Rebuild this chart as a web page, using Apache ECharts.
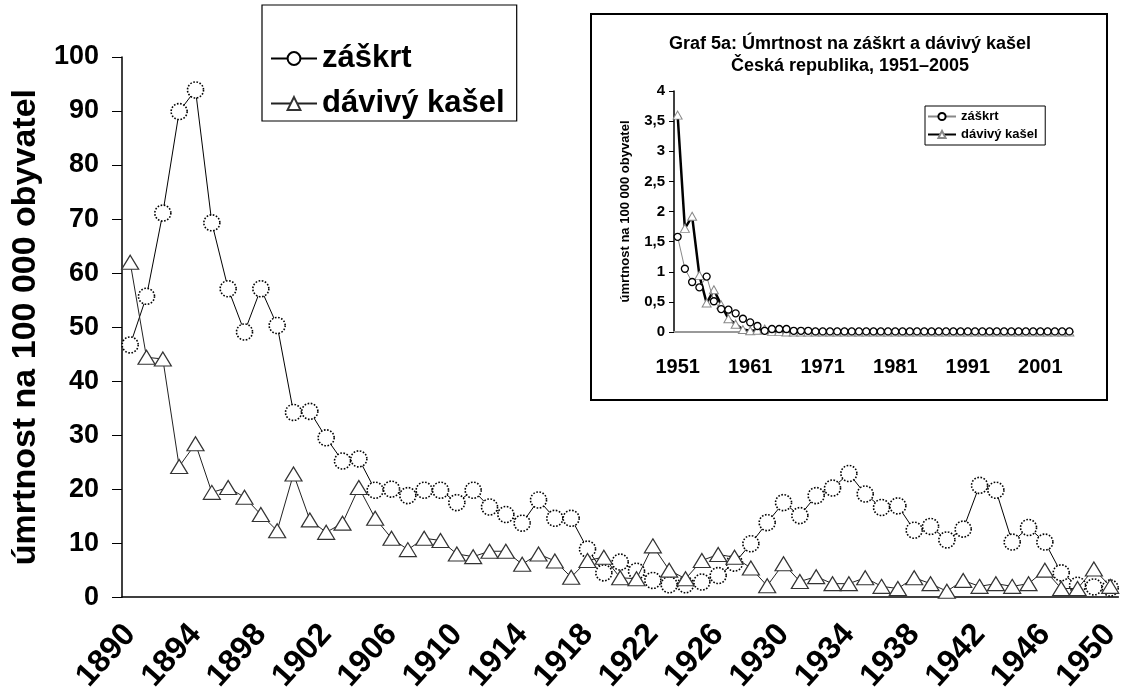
<!DOCTYPE html>
<html>
<head>
<meta charset="utf-8">
<script src="https://cdn.jsdelivr.net/npm/echarts@6/dist/echarts.min.js"></script>
<style>
  html, body { margin: 0; padding: 0; background: #fff; }
  #chart { width: 1124px; height: 695px; }
</style>
</head>
<body>
<div id="chart"></div>
<script>
// main chart: 1890-1950
const years = [
  '1890', '1891', '1892', '1893', '1894', '1895', '1896', '1897', '1898', '1899',
  '1900', '1901', '1902', '1903', '1904', '1905', '1906', '1907', '1908', '1909',
  '1910', '1911', '1912', '1913', '1914', '1915', '1916', '1917', '1918', '1919',
  '1920', '1921', '1922', '1923', '1924', '1925', '1926', '1927', '1928', '1929',
  '1930', '1931', '1932', '1933', '1934', '1935', '1936', '1937', '1938', '1939',
  '1940', '1941', '1942', '1943', '1944', '1945', '1946', '1947', '1948', '1949',
  '1950'
]
const zaskrt = [
  46.7, 55.7, 71.1, 89.9, 93.9, 69.3, 57.1, 49.1, 57.1, 50.3,
  34.2, 34.4, 29.5, 25.2, 25.6, 19.8, 20.0, 18.8, 19.8, 19.8,
  17.5, 19.8, 16.7, 15.3, 13.7, 18.0, 14.6, 14.6, 8.9, 4.5,
  6.5, 4.8, 3.1, 2.3, 2.3, 2.8, 4.0, 6.3, 9.9, 13.8,
  17.5, 15.1, 18.8, 20.2, 22.9, 19.1, 16.6, 16.9, 12.4, 13.1,
  10.6, 12.6, 20.7, 19.8, 10.2, 12.9, 10.2, 4.5, 2.2, 1.9,
  1.7
]
const kasel = [
  62.0, 44.4, 44.1, 24.2, 28.4, 19.4, 20.3, 18.5, 15.3, 12.3,
  22.8, 14.3, 12.0, 13.7, 20.3, 14.6, 10.9, 8.8, 10.9, 10.5,
  8.0, 7.5, 8.5, 8.5, 6.1, 8.0, 6.7, 3.7, 6.8, 7.4,
  3.6, 3.4, 9.5, 5.0, 3.4, 6.8, 7.9, 7.4, 5.4, 2.1,
  6.2, 2.9, 3.8, 2.5, 2.5, 3.6, 2.0, 1.6, 3.6, 2.5,
  1.1, 3.1, 2.0, 2.5, 2.0, 2.5, 5.0, 1.6, 1.6, 5.2,
  2.0
]

// inset chart: 1951-2005
const insetYears = [
  '1951', '1952', '1953', '1954', '1955', '1956', '1957', '1958', '1959', '1960',
  '1961', '1962', '1963', '1964', '1965', '1966', '1967', '1968', '1969', '1970',
  '1971', '1972', '1973', '1974', '1975', '1976', '1977', '1978', '1979', '1980',
  '1981', '1982', '1983', '1984', '1985', '1986', '1987', '1988', '1989', '1990',
  '1991', '1992', '1993', '1994', '1995', '1996', '1997', '1998', '1999', '2000',
  '2001', '2002', '2003', '2004', '2005'
]
const insetZaskrt = [
  1.58, 1.05, 0.83, 0.74, 0.92, 0.51, 0.38, 0.37, 0.31, 0.22,
  0.16, 0.10, 0.02, 0.05, 0.05, 0.05, 0.02, 0.02, 0.02, 0.01,
  0.01, 0.01, 0.01, 0.01, 0.01, 0.01, 0.01, 0.01, 0.01, 0.01,
  0.01, 0.01, 0.01, 0.01, 0.01, 0.01, 0.01, 0.01, 0.01, 0.01,
  0.01, 0.01, 0.01, 0.01, 0.01, 0.01, 0.01, 0.01, 0.01, 0.01,
  0.01, 0.01, 0.01, 0.01, 0.01
]
const insetKasel = [
  3.60, 1.72, 1.92, 0.94, 0.48, 0.70, 0.45, 0.22, 0.13, 0.04,
  0.02, 0.03, 0.05, 0.01, 0.01, 0, 0, 0, 0, 0,
  0, 0, 0, 0, 0, 0, 0, 0, 0, 0,
  0, 0, 0, 0, 0, 0, 0, 0, 0, 0,
  0, 0, 0, 0, 0, 0, 0, 0, 0, 0,
  0, 0, 0, 0, 0
]

const FONT = 'Liberation Sans, Arial, sans-serif'
const insetTitle = ['Graf 5a: Úmrtnost na záškrt a dávivý kašel', 'Česká republika, 1951–2005']

const chart = echarts.init(document.getElementById('chart'))

chart.setOption({
  animation: false,
  backgroundColor: '#fff',
  textStyle: { fontFamily: FONT, color: '#000' },
  graphic: [
    {
      type: 'rect',
      shape: { x: 591, y: 14, width: 516, height: 386 },
      style: { fill: 'none', stroke: '#000', lineWidth: 2 },
      z: 1
    },
    {
      type: 'text',
      x: 850, y: 44,
      style: { text: insetTitle[0], textAlign: 'center', textVerticalAlign: 'middle', font: 'bold 18px ' + FONT, fill: '#000' }
    },
    {
      type: 'text',
      x: 850, y: 66,
      style: { text: insetTitle[1], textAlign: 'center', textVerticalAlign: 'middle', font: 'bold 18px ' + FONT, fill: '#000' }
    }
  ],
  legend: [
    {
      orient: 'vertical',
      left: 262,
      top: 5,
      data: ['záškrt', 'dávivý kašel'],
      itemWidth: 46,
      itemHeight: 16,
      itemGap: 14,
      padding: [38, 12, 2, 8],
      borderColor: '#000',
      borderWidth: 1.2,
      selectedMode: false,
      textStyle: { fontSize: 31, fontWeight: 'bold', color: '#000', fontFamily: FONT }
    },
    {
      orient: 'vertical',
      left: 925,
      top: 106,
      data: ['záškrt ', 'dávivý kašel '],
      itemWidth: 28,
      itemHeight: 9,
      itemGap: 5,
      padding: [4, 4, 4, 2],
      borderColor: '#000',
      borderWidth: 1,
      selectedMode: false,
      textStyle: { fontSize: 13, fontWeight: 'bold', color: '#000', fontFamily: FONT }
    }
  ],
  grid: [
    { left: 122, top: 57, width: 1010, height: 544 },
    { left: 674, top: 91, width: 399, height: 241 }
  ],
  xAxis: [
    {
      gridIndex: 0,
      type: 'category',
      data: years,
      boundaryGap: true,
      axisLine: { lineStyle: { color: '#000', width: 1.5 } },
      axisTick: { interval: 0, length: 9, lineStyle: { color: '#000', width: 1 } },
      axisLabel: { interval: 3, rotate: 48, margin: 32, fontSize: 32, fontWeight: 'bold', color: '#000', fontFamily: FONT },
      splitLine: { show: false }
    },
    {
      gridIndex: 1,
      type: 'category',
      data: insetYears,
      boundaryGap: true,
      axisLine: { lineStyle: { color: '#999', width: 2 } },
      axisTick: { interval: 4, length: 6, lineStyle: { color: '#000', width: 1 } },
      axisLabel: { interval: 9, margin: 25, fontSize: 20, fontWeight: 'bold', color: '#000', fontFamily: FONT },
      splitLine: { show: false }
    }
  ],
  yAxis: [
    {
      gridIndex: 0,
      type: 'value',
      min: 0,
      max: 100,
      interval: 10,
      name: 'úmrtnost na 100 000 obyvatel',
      nameLocation: 'middle',
      nameGap: 72,
      nameTextStyle: { fontSize: 34, fontWeight: 'bold', color: '#000', fontFamily: FONT },
      axisLine: { show: true, lineStyle: { color: '#000', width: 1.5 } },
      axisTick: { show: true, length: 10, lineStyle: { color: '#000' } },
      axisLabel: { margin: 23, fontSize: 27, fontWeight: 'bold', color: '#000', fontFamily: FONT },
      splitLine: { show: false }
    },
    {
      gridIndex: 1,
      type: 'value',
      min: 0,
      max: 4,
      interval: 0.5,
      name: 'úmrtnost na 100 000 obyvatel',
      nameLocation: 'middle',
      nameGap: 42,
      nameTextStyle: { fontSize: 13, fontWeight: 'bold', color: '#000', fontFamily: FONT },
      axisLine: { show: true, lineStyle: { color: '#000', width: 1.5 } },
      axisTick: { show: true, length: 5, lineStyle: { color: '#000' } },
      axisLabel: {
        margin: 9, fontSize: 15, fontWeight: 'bold', color: '#000', fontFamily: FONT,
        formatter: v => String(v).replace('.', ',')
      },
      splitLine: { show: false }
    }
  ],
  series: [
    {
      name: 'záškrt',
      type: 'line',
      xAxisIndex: 0,
      yAxisIndex: 0,
      data: zaskrt,
      symbol: 'circle',
      symbolSize: 16,
      showAllSymbol: true,
      lineStyle: { color: '#000', width: 1 },
      itemStyle: { color: '#fff', borderColor: '#000', borderWidth: 1.6, borderType: 'dotted' },
      z: 3
    },
    {
      name: 'dávivý kašel',
      type: 'line',
      xAxisIndex: 0,
      yAxisIndex: 0,
      data: kasel,
      symbol: 'triangle',
      symbolSize: [17, 14],
      showAllSymbol: true,
      lineStyle: { color: '#222', width: 1 },
      itemStyle: { color: '#fff', borderColor: '#333', borderWidth: 1.2 },
      z: 4
    },
    {
      name: 'záškrt ',
      type: 'line',
      xAxisIndex: 1,
      yAxisIndex: 1,
      data: insetZaskrt,
      symbol: 'circle',
      symbolSize: 7,
      showAllSymbol: true,
      lineStyle: { color: '#888', width: 1 },
      itemStyle: { color: '#fff', borderColor: '#000', borderWidth: 1.3 },
      z: 4
    },
    {
      name: 'dávivý kašel ',
      type: 'line',
      xAxisIndex: 1,
      yAxisIndex: 1,
      data: insetKasel,
      symbol: 'triangle',
      symbolSize: [9, 8],
      showAllSymbol: true,
      lineStyle: { color: '#000', width: 2.5 },
      itemStyle: { color: '#fff', borderColor: '#888', borderWidth: 1 },
      z: 3
    }
  ]
})
</script>
</body>
</html>
